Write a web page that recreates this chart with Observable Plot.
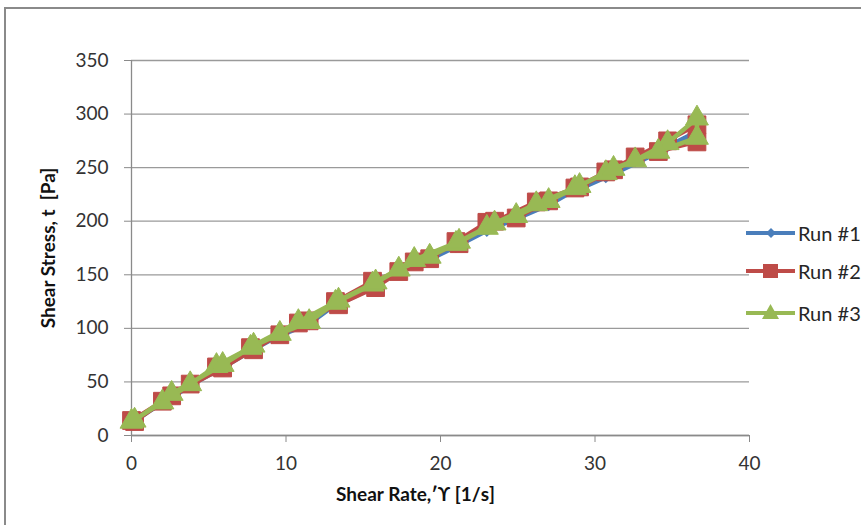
<!DOCTYPE html>
<html>
<head>
<meta charset="utf-8">
<script src="https://cdn.jsdelivr.net/npm/d3@7"></script>
<script src="https://cdn.jsdelivr.net/npm/@observablehq/plot@0.6"></script>
<style>
  html, body { margin: 0; padding: 0; background: #fff; overflow: hidden; width: 861px; height: 525px; }
  #wrap { position: relative; width: 861px; height: 525px; overflow: hidden; font-family: Lato, "Open Sans", sans-serif; }
  #frame { position: absolute; left: 4px; top: 7px; width: 900px; height: 600px; border: 2px solid #8a8a8a; box-sizing: border-box; }
  #chart { position: absolute; left: 0; top: 0; }
  .leg { position: absolute; left: 746px; height: 22px; display: flex; align-items: center; white-space: nowrap; font-size: 20px; color: #262626; }
  .leg svg { display: block; margin-right: 3px; }
</style>
</head>
<body>
<div id="wrap">
  <div id="frame"></div>
  <div id="chart"></div>
  <div id="legend"></div>
</div>
<script>
// Shear rate sequence (ramp up, then ramp down) [1/s]
const shearRate = [0, 2.0, 3.8, 5.5, 7.7, 9.6, 11.5, 13.2, 15.6, 17.3, 19.3, 21.0, 23.0, 24.9, 27.0, 28.7, 30.7, 32.6, 34.7, 36.6,
                   36.6, 34.1, 31.2, 29.0, 26.2, 23.5, 21.2, 18.3, 15.8, 13.4, 10.8, 7.9, 5.9, 2.6, 0.2];
// Shear stress [Pa]
const run1 = [12, 30, 46, 64, 80, 93, 104, 122, 140, 152, 164, 176, 191, 202, 215, 229, 241, 256, 270, 284,
              280, 264, 244, 230, 214, 196, 178, 161, 139, 122, 103, 80, 63, 37, 13];
const run2 = [14, 32, 48, 64, 82, 94, 107, 125, 144, 153, 165, 181, 199, 203, 219, 231, 246, 260, 275, 290,
              274, 265, 248, 232, 218, 200, 179, 162, 138, 122, 105, 80, 63, 37, 13];
const run3 = [13, 31, 48, 65, 82, 95, 106, 124, 141, 155, 167, 179, 194, 205, 219, 231, 245, 257, 273, 296,
              278, 265, 249, 233, 216, 198, 181, 164, 143, 126, 106, 84, 66, 39, 14];
const runNames = ["Run #1", "Run #2", "Run #3"];
const runColors = ["#4A7EBB", "#BE4B48", "#98B954"];
const xTicks = [0, 10, 20, 30, 40];
const yTicks = [0, 50, 100, 150, 200, 250, 300, 350];
const xTitle = "Shear Rate,ʹϒ [1/s]";
const yTitle = "Shear Stress, t  [Pa]";

const toRows = (ys) => ys.map((v, i) => ({x: shearRate[i], y: v}));
const d1 = toRows(run1), d2 = toRows(run2), d3r = toRows(run3);

const chart = Plot.plot({
  width: 861,
  height: 525,
  marginLeft: 131,
  marginRight: 112,
  marginTop: 60,
  marginBottom: 90,
  x: {domain: [0, 40]},
  y: {domain: [0, 350]},
  style: {fontFamily: "Lato, 'Open Sans', sans-serif", fontSize: "18px", background: "transparent", overflow: "visible"},
  marks: [
    Plot.gridY(yTicks, {stroke: "#9a9a9a", strokeOpacity: 1, strokeWidth: 1.3}),
    Plot.ruleX([0], {stroke: "#8a8a8a", strokeWidth: 1.3}),
    Plot.ruleY([0], {stroke: "#8a8a8a", strokeWidth: 1.3}),
    Plot.axisY(yTicks, {tickSize: 7, tickPadding: 16, label: null, stroke: "#8a8a8a", fill: "#333", fontSize: 19, tickFormat: d => String(d)}),
    Plot.axisX(xTicks, {tickSize: 7, tickPadding: 14, label: null, stroke: "#8a8a8a", fill: "#333", fontSize: 19, tickFormat: d => String(d)}),
    Plot.line(d1, {x: "x", y: "y", stroke: runColors[0], strokeWidth: 4}),
    Plot.dot(d1, {x: "x", y: "y", symbol: "diamond2", r: 4.5, fill: runColors[0], stroke: runColors[0]}),
    Plot.line(d2, {x: "x", y: "y", stroke: runColors[1], strokeWidth: 4}),
    Plot.dot(d2, {x: "x", y: "y", symbol: "square", r: 10, fill: runColors[1], stroke: runColors[1], strokeWidth: 1}),
    Plot.line(d3r, {x: "x", y: "y", stroke: runColors[2], strokeWidth: 4.5}),
    Plot.dot(d3r, {x: "x", y: "y", symbol: "triangle", r: 8.5, fill: runColors[2], stroke: runColors[2], strokeWidth: 1}),
    Plot.text([xTitle], {frameAnchor: "bottom", dy: 65, dx: -25, fontWeight: "bold", fontSize: 19, fill: "#111"}),
    Plot.text([yTitle], {frameAnchor: "left", textAnchor: "middle", dx: -83, rotate: -90, fontWeight: "bold", fontSize: 19, fill: "#111"})
  ]
});
document.getElementById("chart").appendChild(chart);

// Legend
const legendY = [233, 271, 313];
const symbols = [
  '<path d="M25,5 L30,10 L25,15 L20,10 Z" fill="#4A7EBB"/>',
  '<rect x="17" y="3" width="15" height="14" fill="#BE4B48"/>',
  '<path d="M24.5,1 L33,16 L16,16 Z" fill="#98B954"/>'
];
const legend = document.getElementById("legend");
runNames.forEach((name, i) => {
  const div = document.createElement("div");
  div.className = "leg";
  div.style.top = (legendY[i] - 11) + "px";
  div.innerHTML = `<svg width="49" height="20" viewBox="0 0 49 20"><line x1="0" y1="10" x2="49" y2="10" stroke="${runColors[i]}" stroke-width="4"/>${symbols[i]}</svg><span>${name}</span>`;
  legend.appendChild(div);
});
</script>
</body>
</html>
